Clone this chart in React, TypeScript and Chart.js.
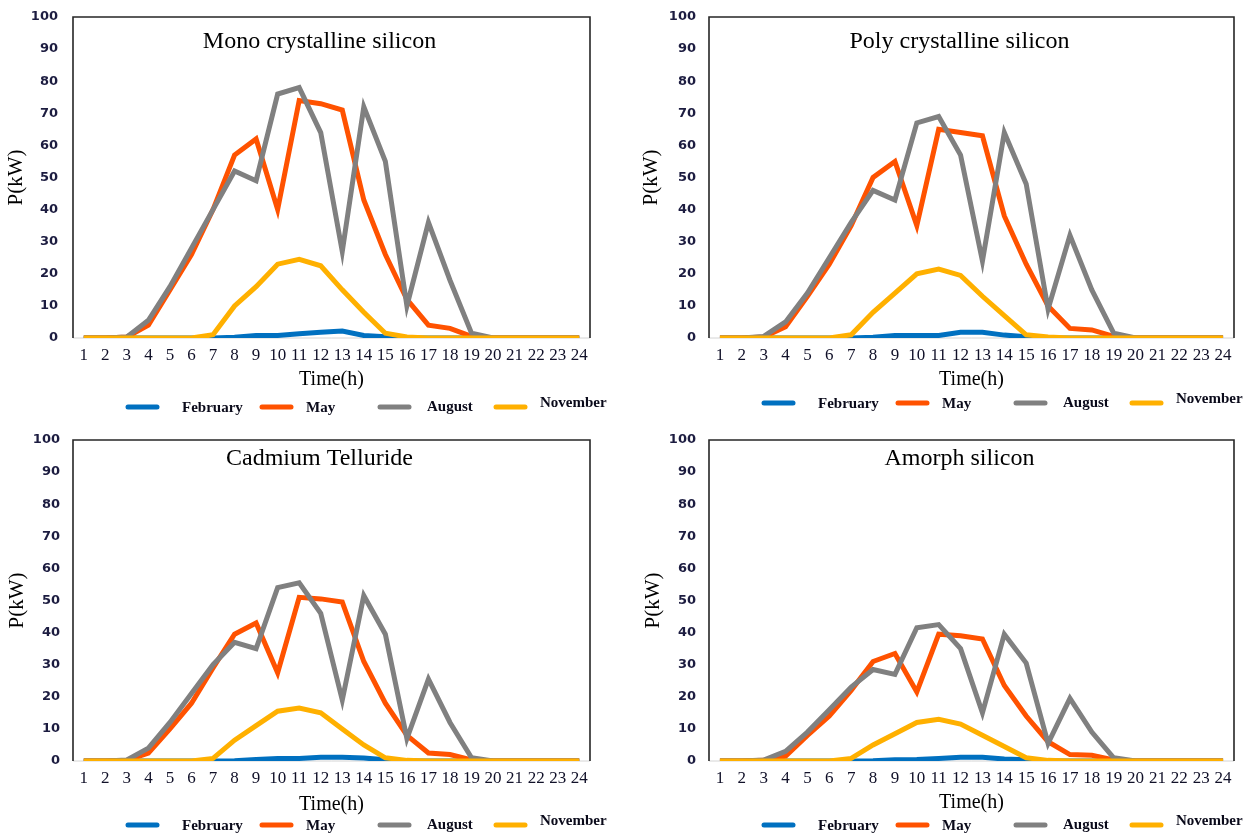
import React, { useEffect, useRef } from "react";
import { Chart, registerables } from "chart.js";

Chart.register(...registerables);

const hours = ["1","2","3","4","5","6","7","8","9","10","11","12","13","14","15","16","17","18","19","20","21","22","23","24"];
const seriesNames = ["February", "May", "August", "November"];
const seriesColors = ["#0070C0", "#FF5200", "#808080", "#FFB000"];

const monoFeb = [0,0,0,0,0,0,0,0.2,0.8,0.8,1.3,1.8,2.2,0.8,0.4,0,0,0,0,0,0,0,0,0];
const monoMay = [0,0,0.3,4,15,26,40,57,62,40,74,73,71,43,26,12,4,3,0.5,0,0,0,0,0];
const monoAug = [0,0,0.3,5.5,16,28,40,52,49,76,78,64,27,72,55,10,36,18,1.5,0,0,0,0,0];
const monoNov = [0,0,0,0,0,0,1,10,16,23,24.5,22.5,15,8,1.5,0.3,0,0,0,0,0,0,0,0];

const polyFeb = [0,0,0,0,0,0,0,0.2,0.8,0.8,0.8,1.8,1.8,0.9,0.4,0,0,0,0,0,0,0,0,0];
const polyMay = [0,0,0.3,3.5,13,23,35,50,55,35,65,64,63,38,23,10,3,2.5,0.5,0,0,0,0,0];
const polyAug = [0,0,0.5,5,14,25,36,46,43,67,69,57,24,64,48,9,32,15,1.5,0,0,0,0,0];
const polyNov = [0,0,0,0,0,0,1,8,14,20,21.5,19.5,13,7,1,0.3,0,0,0,0,0,0,0,0];

const cdteFeb = [0,0,0,0,0,0,0,0.1,0.5,0.8,0.8,1.2,1.2,0.9,0.4,0,0,0,0,0,0,0,0,0];
const cdteMay = [0,0,0.2,2.5,10,18,29,39.5,43,27.5,51,50.5,49.5,31,18,8,2.5,2,0.3,0,0,0,0,0];
const cdteAug = [0,0,0.3,4,12,21,30,37,35,54,55.5,46,19,51.5,39.5,7,25.5,12,1,0,0,0,0,0];
const cdteNov = [0,0,0,0,0,0,0.8,6.5,11,15.5,16.5,15,10,5,1,0.2,0,0,0,0,0,0,0,0];

const amorFeb = [0,0,0,0,0,0,0,0.1,0.4,0.5,0.8,1.2,1.2,0.6,0.4,0,0,0,0,0,0,0,0,0];
const amorMay = [0,0,0.2,1.5,8,14,22,31,33.5,21.5,39.5,39,38,23.5,14,6,2,1.8,0.3,0,0,0,0,0];
const amorAug = [0,0,0.3,3,9,16,23,28.5,27,41.5,42.5,35,15,39.5,30.5,5.5,19.5,9,1,0,0,0,0,0];
const amorNov = [0,0,0,0,0,0,0.8,5,8.5,12,13,11.5,8,4.5,1,0.2,0,0,0,0,0,0,0,0];

const SERIF = '"Liberation Serif", "Times New Roman", serif';

const decorPlugin = {
  id: "panelDecor",
  beforeDatasetsDraw(chart: any) {
    const { ctx, chartArea: a } = chart;
    ctx.save();
    ctx.strokeStyle = "#d4d4d4";
    ctx.lineWidth = 1;
    ctx.beginPath();
    ctx.moveTo(a.left, a.bottom);
    ctx.lineTo(a.right, a.bottom);
    ctx.stroke();
    ctx.strokeStyle = "#262626";
    ctx.lineWidth = 1.6;
    ctx.beginPath();
    ctx.moveTo(a.left, a.bottom);
    ctx.lineTo(a.left, a.top);
    ctx.lineTo(a.right, a.top);
    ctx.lineTo(a.right, a.bottom);
    ctx.stroke();
    ctx.restore();
  },
  afterDraw(chart: any, _args: any, opts: any) {
    const { ctx, chartArea: a } = chart;
    ctx.save();
    ctx.font = `24px ${SERIF}`;
    ctx.fillStyle = "#000";
    ctx.textAlign = "center";
    ctx.textBaseline = "middle";
    ctx.fillText(opts.title, (a.left + a.right) / 2 - 12, a.top + opts.titleDy);
    const lineX = [55, 189, 307, 423];
    const textX = [109, 233, 354, 467];
    const dy = [1, 1, 0, -4];
    const ly = a.bottom + opts.legendDy;
    ctx.font = `bold 15px ${SERIF}`;
    ctx.textAlign = "left";
    chart.data.datasets.forEach((ds: any, i: number) => {
      ctx.strokeStyle = ds.borderColor;
      ctx.lineWidth = 5;
      ctx.lineCap = "round";
      ctx.beginPath();
      ctx.moveTo(a.left + lineX[i], ly);
      ctx.lineTo(a.left + lineX[i] + 29, ly);
      ctx.stroke();
      ctx.fillStyle = "#0a0a1a";
      ctx.fillText(ds.label, a.left + textX[i], ly + dy[i]);
    });
    ctx.restore();
  },
};

type PanelCfg = {
  title: string;
  data: number[][];
  left: number;
  top: number;
  width: number;
  height: number;
  padTop: number;
  padRight: number;
  padBottom: number;
  xH: number;
  yW: number;
  yTickPad: number;
  yTitlePad: number;
  titleDy: number;
  legendDy: number;
};

const panels: PanelCfg[] = [
  { title: "Mono crystalline silicon", data: [monoFeb, monoMay, monoAug, monoNov], left: 0, top: -10, width: 625, height: 428, padTop: 27, padRight: 35, padBottom: 26, xH: 54, yW: 73, yTickPad: 15, yTitlePad: 4, titleDy: 25, legendDy: 69 },
  { title: "Poly crystalline silicon", data: [polyFeb, polyMay, polyAug, polyNov], left: 625, top: -10, width: 633, height: 428, padTop: 27, padRight: 24, padBottom: 26, xH: 54, yW: 84, yTickPad: 13, yTitlePad: 14, titleDy: 25, legendDy: 65 },
  { title: "Cadmium Telluride", data: [cdteFeb, cdteMay, cdteAug, cdteNov], left: 0, top: 418, width: 625, height: 418, padTop: 22, padRight: 35, padBottom: 19, xH: 56, yW: 73, yTickPad: 13, yTitlePad: 5, titleDy: 19, legendDy: 64 },
  { title: "Amorph silicon", data: [amorFeb, amorMay, amorAug, amorNov], left: 625, top: 418, width: 633, height: 418, padTop: 22, padRight: 24, padBottom: 21, xH: 54, yW: 84, yTickPad: 13, yTitlePad: 16, titleDy: 19, legendDy: 64 },
];

function Panel({ cfg }: { cfg: PanelCfg }) {
  const ref = useRef<HTMLCanvasElement | null>(null);
  useEffect(() => {
    if (!ref.current) return;
    const chart = new Chart(ref.current, {
      type: "line",
      data: {
        labels: hours,
        datasets: cfg.data.map((d, i) => ({
          label: seriesNames[i],
          data: d,
          borderColor: seriesColors[i],
          backgroundColor: seriesColors[i],
          borderWidth: 5,
          pointRadius: 0,
          tension: 0,
          fill: false,
          order: 3 - i,
        })),
      },
      options: {
        responsive: false,
        animation: false,
        devicePixelRatio: 1,
        layout: { padding: { left: 0, top: cfg.padTop, right: cfg.padRight, bottom: cfg.padBottom } },
        plugins: {
          legend: { display: false },
          tooltip: { enabled: false },
          panelDecor: { title: cfg.title, titleDy: cfg.titleDy, legendDy: cfg.legendDy },
        } as any,
        scales: {
          x: {
            type: "category",
            offset: true,
            grid: { display: false, drawTicks: false },
            border: { display: false },
            ticks: { autoSkip: false, maxRotation: 0, minRotation: 0, padding: 7, color: "#101028", font: { family: SERIF, size: 17 } },
            title: { display: true, text: "Time(h)", color: "#000", font: { family: SERIF, size: 20 }, padding: { top: 0, bottom: 0 } },
            afterFit: (s: any) => { s.height = cfg.xH; },
          },
          y: {
            min: 0,
            max: 100,
            grid: { display: false, drawTicks: false },
            border: { display: false },
            ticks: { stepSize: 10, padding: cfg.yTickPad, color: "#1c1c40", font: { family: '"DejaVu Sans", sans-serif', size: 13, weight: "bold" } },
            title: { display: true, text: "P(kW)", color: "#000", font: { family: SERIF, size: 21 }, padding: { top: cfg.yTitlePad, bottom: 0 } },
            afterFit: (s: any) => { s.width = cfg.yW; },
          },
        },
      },
      plugins: [decorPlugin],
    });
    return () => chart.destroy();
  }, [cfg]);
  return (
    <canvas
      ref={ref}
      width={cfg.width}
      height={cfg.height}
      style={{ position: "absolute", left: cfg.left, top: cfg.top, width: cfg.width, height: cfg.height }}
    />
  );
}

export default function App() {
  return (
    <div style={{ position: "absolute", left: 0, top: 0, width: 1258, height: 836, background: "#fff", overflow: "hidden" }}>
      {panels.map((p) => (
        <Panel key={p.title} cfg={p} />
      ))}
    </div>
  );
}
